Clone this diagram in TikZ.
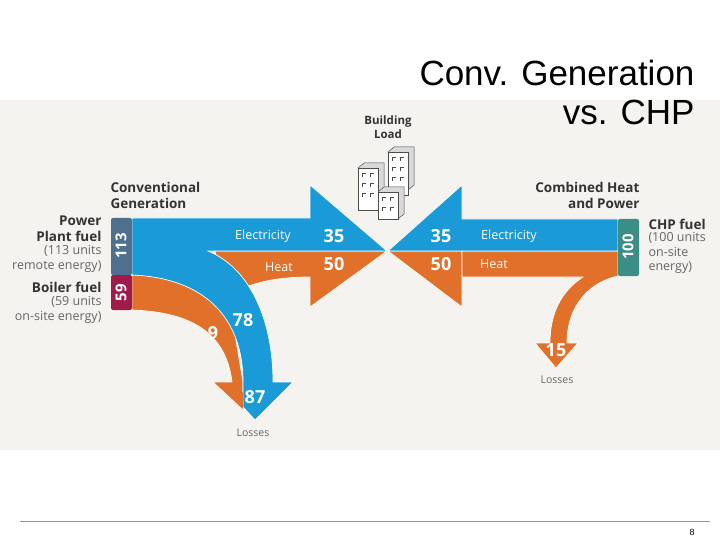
\documentclass[tikz,border=0pt]{standalone}
\usepackage{fontspec}
\setmainfont{Open Sans}
\newfontfamily\titlefont{Liberation Sans}
\begin{document}
\begin{tikzpicture}[x=1pt,y=-1pt,
  flow/.style={draw=white,line width=0.7pt},
  lbl/.style={text=white,font=\fontsize{12.5}{12.5}\selectfont},
  num/.style={text=white,font=\bfseries\fontsize{18}{18}\selectfont},
  dark/.style={font=\bfseries\fontsize{13.5}{16}\selectfont,text=black!80},
  grey/.style={font=\fontsize{12.5}{14.5}\selectfont,text=black!60},
  box/.style={draw=none,rounded corners=2pt}]
\definecolor{bl}{HTML}{1A9AD6}
\definecolor{orng}{HTML}{E0702A}
\definecolor{slate}{HTML}{4F6F8F}
\definecolor{maroon}{HTML}{9E1B4A}
\definecolor{teal}{HTML}{3A8E85}
\definecolor{bg}{HTML}{F5F3EF}
\definecolor{olive}{HTML}{A89A50}
\useasboundingbox (0,0) rectangle (720,540);
\fill[white] (0,0) rectangle (720,540);
\fill[bg] (0,100) rectangle (720,450);
\node[anchor=east,font=\titlefont\fontsize{35}{35}\selectfont] (t1) at (698,73) {Conv. Generation};
\node[anchor=east,font=\titlefont\fontsize{35}{35}\selectfont] (t2) at (698,112) {vs. CHP};
\draw[olive,line width=0.8pt] (20,521) -- (710,521);
\node[font=\titlefont\fontsize{9}{9}\selectfont] (pg) at (692,532) {8};
% left flows
\fill[orng,flow] (132,275) -- (225,275) -- (243,382) -- (243,410) -- (213,382) -- (232,382) .. controls (226,332) and (190,312) .. (132,310) -- cycle;
\fill[orng,flow] (226,297) .. controls (245,285) and (270,277) .. (310,277) -- (310,307) -- (387,251) -- (215,251) -- cycle;
\fill[bl,flow] (132,218) -- (310,218) -- (310,185) -- (387,251) -- (208,251) .. controls (250,268) and (273,320) .. (273,382) -- (293,382) -- (255,420) -- (243,407) -- (243,382) .. controls (243,318) and (205,278) .. (132,275) -- cycle;
\fill[orng] (243,409) -- (227,392) -- (243,392) -- cycle;
% right flows
\fill[orng,flow] (618,251) -- (462,251) -- (462,307) -- (388,251) -- cycle;
\fill[orng,flow] (618,251) -- (462,251) -- (462,277) -- (583,277) .. controls (560,292) and (550,315) .. (550,343) -- (535,343) -- (556,368) -- (578,343) -- (567,343) .. controls (567,305) and (590,282) .. (618,276) -- cycle;
\fill[bl,flow] (618,219) -- (462,219) -- (462,185) -- (388,251) -- (618,251) -- cycle;
% boxes
\fill[slate,box] (111,218) rectangle (132,275);
\fill[maroon,box] (111,275) rectangle (132,310);
\fill[teal,box] (618,219) rectangle (639,276);
\node[num,rotate=90,font=\bfseries\fontsize{15}{15}\selectfont] (b1) at (121,246) {113};
\node[num,rotate=90,font=\bfseries\fontsize{15}{15}\selectfont] (b2) at (121,293) {59};
\node[num,rotate=90,font=\bfseries\fontsize{15}{15}\selectfont] (b3) at (628,247) {100};
% flow labels
\node[lbl] (e1) at (263,236) {Electricity};
\node[num] (n1) at (334,236) {35};
\node[lbl] (h1) at (279,267) {Heat};
\node[num] (n2) at (334,264) {50};
\node[num] (n3) at (441,236) {35};
\node[lbl] (e2) at (509,236) {Electricity};
\node[num] (n4) at (441,264) {50};
\node[lbl] (h2) at (494,264) {Heat};
\node[num] (n5) at (243,320) {78};
\node[num] (n6) at (213,333) {9};
\node[num] (n7) at (255,397) {87};
\node[num] (n8) at (556,350) {15};
\node[grey,font=\fontsize{10.5}{10.5}\selectfont] (l1) at (253,433) {Losses};
\node[grey,font=\fontsize{10.5}{10.5}\selectfont] (l2) at (557,380) {Losses};
% side labels
\node[dark,anchor=west,align=left] (cg) at (107,195) {Conventional\\Generation};
\node[dark,anchor=east,align=right] (ch) at (643,195) {Combined Heat\\and Power};
\node[dark,anchor=east,align=right] (pp) at (105,229) {Power\\Plant fuel};
\node[grey,anchor=east,align=right] (pp2) at (105,259) {(113 units\\remote energy)};
\node[dark,anchor=east] (bf) at (105,287) {Boiler fuel};
\node[grey,anchor=east,align=right] (bf2) at (105,310) {(59 units\\on-site energy)};
\node[dark,anchor=west] (cf) at (645,224) {CHP fuel};
\node[grey,anchor=west,align=left] (cf2) at (645,253) {(100 units\\on-site\\energy)};
\node[dark,font=\bfseries\fontsize{11.5}{14}\selectfont,align=center] (bl) at (388,127) {Building\\Load};
% buildings
\begin{scope}[draw=black!70,line width=0.5pt]
\filldraw[fill=black!15] (388,152) -- (394,147) -- (414,147) -- (414,185) -- (408,190) -- cycle;
\filldraw[fill=white] (388,152) rectangle (408,195);
\filldraw[fill=black!15] (358,168) -- (364,163) -- (384,163) -- (384,205) -- (378,210) -- cycle;
\filldraw[fill=white] (358,168) rectangle (378,210);
\filldraw[fill=black!15] (378,192) -- (384,187) -- (404,187) -- (404,214) -- (398,219) -- cycle;
\filldraw[fill=white] (378,192) rectangle (398,219);
\foreach \x/\y in {392/157,400/157,392/167,400/167,392/177,400/177,362/173,370/173,362/183,370/183,362/193,370/193,382/197,390/197,382/207,390/207}
  \draw (\x,\y+4) -- (\x,\y) -- (\x+4,\y);
\end{scope}
\end{tikzpicture}
\end{document}
